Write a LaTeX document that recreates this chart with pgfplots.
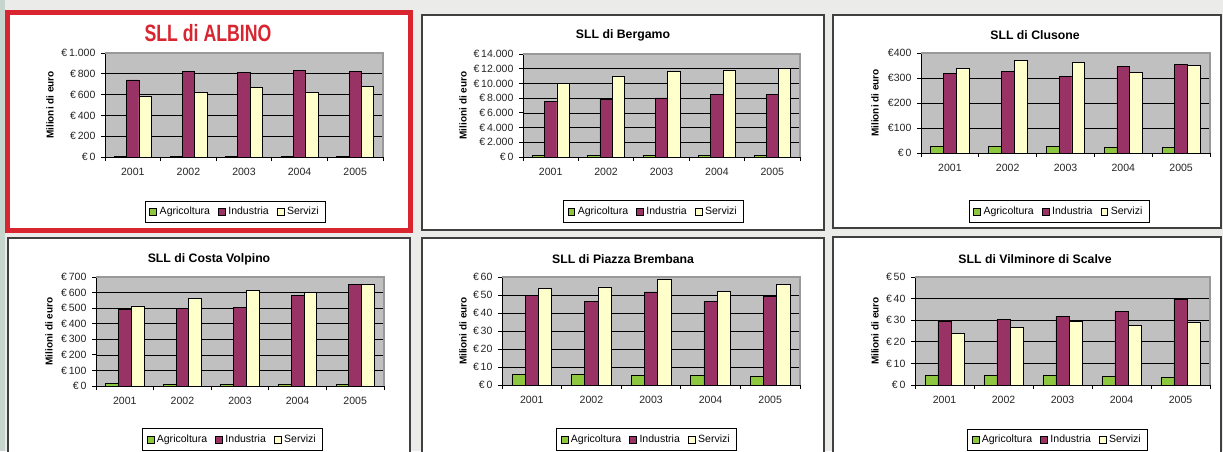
\documentclass[border=0pt]{standalone}
\usepackage{pgfplots}
\pgfplotsset{compat=1.18}
\usepackage{pgfplotstable}
\usepackage{fontspec}
\setmainfont{Liberation Sans}

\definecolor{pagebg}{HTML}{EBEBEA}
\definecolor{strip}{HTML}{C6D6CF}
\definecolor{albred}{HTML}{D9252F}
\definecolor{boxgray}{HTML}{404040}
\definecolor{plotbg}{HTML}{C0C0C0}
\definecolor{edgegray}{HTML}{999999}
\definecolor{agri}{HTML}{8DC63F}
\definecolor{ind}{HTML}{993366}
\definecolor{ser}{HTML}{FFFFCC}

% x agr ind ser
\pgfplotstableread{
x agr ind ser
0 6 742 581
1 5 826 623
2 5 810 671
3 5 835 623
4 5 826 677
}\albino
\pgfplotstableread{
x agr ind ser
0 270 7520 10010
1 180 7880 11010
2 180 8020 11600
3 270 8560 11740
4 180 8560 12100
}\bergamo
\pgfplotstableread{
x agr ind ser
0 27 317 340
1 27 325 369
2 25.5 306 362
3 23 345 321
4 23 353 349
}\clusone
\pgfplotstableread{
x agr ind ser
0 15 492 514
1 11 497 565
2 11 503 612
3 11 582 602
4 11 653 653
}\costa
\pgfplotstableread{
x agr ind ser
0 5.9 49.7 53.5
1 5.9 46.5 54.5
2 5.35 51.7 58.5
3 5.2 46.5 51.9
4 5.0 49.3 55.8
}\piazza
\pgfplotstableread{
x agr ind ser
0 4.5 29.7 23.7
1 4.5 30.3 26.5
2 4.3 31.7 29.4
3 4.0 34.0 27.4
4 3.7 39.8 28.9
}\vilminore

\pgfplotsset{
  sll/.style={
    scale only axis, anchor=south west,
    xmin=-0.5, xmax=4.5, ymin=0,
    axis background/.style={fill=plotbg},
    axis line style={draw=none},
    clip=false,
    tick align=outside,
    xtick pos=bottom, ytick pos=left,
    scaled y ticks=false,
    major tick length=3pt,
    tick style={black, line width=0.6pt},
    xtick={-0.5,0.5,1.5,2.5,3.5,4.5}, xticklabels={,,,,,},
    extra x ticks={0,1,2,3,4},
    extra x tick labels={2001,2002,2003,2004,2005},
    extra x tick style={major tick length=0pt,
      xticklabel style={anchor=center, yshift=-11pt}},
    ymajorgrids, grid style={black, line width=0.5pt},
    yticklabel style={anchor=east, inner sep=0pt, xshift=-4pt},
    ticklabel style={font=\fontsize{7.9}{9}\selectfont, text=black!85},
    legend columns=3,
    legend style={draw=black, line width=0.6pt, fill=white, anchor=center,
      font=\fontsize{7.9}{9}\selectfont, inner xsep=3pt, inner ysep=2.4pt,
      /tikz/every even column/.append style={column sep=4pt}},
    legend image code/.code={\draw[#1, draw=black, line width=0.5pt]
      (0pt,-2.6pt) rectangle (5.2pt,2.6pt);},
  },
  bars/.style={ybar, bar width=0.2222, draw=black, line width=0.5pt},
}

\newcommand{\bars}[1]{%
  \addplot[bars, fill=agri, bar shift=-0.2222] table[x=x, y=agr] {#1};
  \addplot[bars, fill=ind, bar shift=0] table[x=x, y=ind] {#1};
  \addplot[bars, fill=ser, bar shift=0.2222] table[x=x, y=ser] {#1};
  \legend{Agricoltura,Industria,Servizi}
  \draw[black, line width=0.6pt] (rel axis cs:0,1) -- (rel axis cs:0,0) -- (rel axis cs:1,0);
  \draw[edgegray, line width=1.4pt] (rel axis cs:0,1) -- (rel axis cs:1,1) -- (rel axis cs:1,0);
}

\begin{document}
\begin{tikzpicture}[x=0.75pt, y=0.75pt]
\useasboundingbox (0,0) rectangle (1223,451);
\clip (0,0) rectangle (1223,451);
\fill[pagebg] (0,0) rectangle (1223,451);
\fill[strip] (0,0) rectangle (5,451);

% panel frames
\draw[albred, line width=3.75pt, fill=white] (7.5,438.5) rectangle (410.5,220.5);
\draw[boxgray, line width=0.9pt, fill=white] (422,436) rectangle (824,221);
\draw[boxgray, line width=0.9pt, fill=white] (833,436) rectangle (1221,223);
\draw[boxgray, line width=0.9pt, fill=white] (8,213) rectangle (410,-10);
\draw[boxgray, line width=0.9pt, fill=white] (422,213) rectangle (824,-10);
\draw[boxgray, line width=0.9pt, fill=white] (833,214) rectangle (1221,-10);

% titles
\node[albred, font=\bfseries\fontsize{17.7}{20}\selectfont, xscale=0.75] at (208,418) {SLL di ALBINO};
\node[font=\bfseries\fontsize{9.2}{11}\selectfont] at (623,416) {SLL di Bergamo};
\node[font=\bfseries\fontsize{9.2}{11}\selectfont] at (1035,416) {SLL di Clusone};
\node[font=\bfseries\fontsize{9.2}{11}\selectfont] at (209,192) {SLL di Costa Volpino};
\node[font=\bfseries\fontsize{9.2}{11}\selectfont] at (623,192) {SLL di Piazza Brembana};
\node[font=\bfseries\fontsize{9.2}{11}\selectfont] at (1035,192) {SLL di Vilminore di Scalve};

% y labels
\foreach \p in {(50,346),(463,345.5),(875,348),(49,119.5),(463,120),(875,120)}
  \node[rotate=90, font=\bfseries\fontsize{7.5}{9}\selectfont] at \p {Milioni di euro};

% SLL di Albino
\begin{axis}[sll, at={(78.75pt,220.5pt)}, width=208.5pt, height=78pt,
  ymax=1000, ytick={0,200,...,1000},
  yticklabels={€\,0,€\,200,€\,400,€\,600,€\,800,€\,1.000},
  legend style={at={(0.469,-0.529)}}]
\bars{\albino}
\end{axis}

% SLL di Bergamo
\begin{axis}[sll, at={(392.25pt,220.5pt)}, width=207.75pt, height=77.25pt,
  ymax=14000, ytick={0,2000,...,14000},
  yticklabels={€\,0,€\,2.000,€\,4.000,€\,6.000,€\,8.000,€\,10.000,€\,12.000,€\,14.000},
  legend style={at={(0.471,-0.529)}}]
\bars{\bergamo}
\end{axis}

% SLL di Clusone
\begin{axis}[sll, at={(690.75pt,223.5pt)}, width=216.75pt, height=75pt,
  ymax=400, ytick={0,100,...,400},
  yticklabels={€\,0,€100,€200,€300,€400},
  legend style={at={(0.478,-0.585)}}]
\bars{\clusone}
\end{axis}

% SLL di Costa Volpino
\begin{axis}[sll, at={(72pt,48.75pt)}, width=216pt, height=81.75pt,
  ymax=700, ytick={0,100,...,700},
  yticklabels={€\,0,€\,100,€\,200,€\,300,€\,400,€\,500,€\,600,€\,700},
  legend style={at={(0.474,-0.491)}}]
\bars{\costa}
\end{axis}

% SLL di Piazza Brembana
\begin{axis}[sll, at={(376.5pt,49.5pt)}, width=223.5pt, height=81pt,
  ymax=60, ytick={0,10,...,60},
  yticklabels={€\,0,€\,10,€\,20,€\,30,€\,40,€\,50,€\,60},
  legend style={at={(0.485,-0.505)}}]
\bars{\piazza}
\end{axis}

% SLL di Vilminore di Scalve
\begin{axis}[sll, at={(686.25pt,49.5pt)}, width=221.25pt, height=81pt,
  ymax=50, ytick={0,10,...,50},
  yticklabels={€\,0,€\,10,€\,20,€\,30,€\,40,€\,50},
  legend style={at={(0.483,-0.509)}}]
\bars{\vilminore}
\end{axis}
\end{tikzpicture}
\end{document}
